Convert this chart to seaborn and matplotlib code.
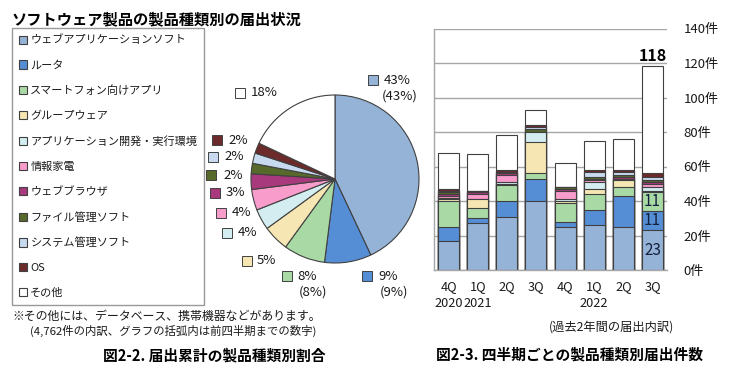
import matplotlib
matplotlib.use("Agg")
import matplotlib.pyplot as plt
from matplotlib.patches import Rectangle
from matplotlib.offsetbox import DrawingArea, AnnotationBbox
import seaborn as sns
import numpy as np

sns.set_theme(style="white")
plt.rcParams["font.family"] = ["Noto Sans CJK JP", "DejaVu Sans"]

# product types (legend order = stacking order)
categories = ["ウェブアプリケーションソフト", "ルータ", "スマートフォン向けアプリ", "グループウェア",
              "アプリケーション開発・実行環境", "情報家電", "ウェブブラウザ", "ファイル管理ソフト",
              "システム管理ソフト", "OS", "その他"]
colors = ["#95B3D7", "#558ED5", "#A9DAA6", "#F5E6B4", "#D4EDF0", "#F89CCB", "#A8397C",
          "#576A2C", "#C8DAF0", "#6C2A2A", "#FFFFFF"]

# cumulative share (%) and previous-quarter share
pie_share = [43, 9, 8, 5, 4, 4, 3, 2, 2, 2, 18]
prev_share = [43, 9, 8]

# quarterly counts
quarter_keys = ["2020Q4", "2021Q1", "2021Q2", "2021Q3", "2021Q4", "2022Q1", "2022Q2", "2022Q3"]
quarter_labels = ["4Q\n2020", "1Q\n2021", "2Q", "3Q", "4Q", "1Q\n2022", "2Q", "3Q"]
web_app = [17, 27, 31, 40, 25, 26, 25, 23]
router = [8, 3, 9, 13, 3, 9, 18, 11]
smartphone = [15, 6, 9, 3, 11, 9, 5, 11]
groupware = [1, 5, 1, 18, 1, 3, 4, 1]
app_dev = [1, 0, 1, 6, 1, 4, 1, 2]
appliance = [1, 3, 4, 0, 5, 1, 0, 2]
browser = [1, 1, 1, 0, 1, 1, 1, 1]
file_mgmt = [1, 1, 1, 2, 1, 1, 1, 1]
sys_mgmt = [1, 0, 0, 1, 0, 3, 2, 2]
os_sw = [1, 0, 1, 1, 0, 1, 1, 2]
other = [21, 21, 20, 9, 14, 17, 18, 62]
series = [web_app, router, smartphone, groupware, app_dev, appliance,
          browser, file_mgmt, sys_mgmt, os_sw, other]

W, H = 737, 370
TXT = "#1a1a1a"
EDGE = "#404040"


def fx(x):
    return x / W


def fy(y):
    return 1 - y / H


fig = plt.figure(figsize=(W / 100, H / 100), dpi=100)

# ---------------- pie ----------------
R = 84
ax_pie = fig.add_axes([fx(205), fy(303), 260 / W, 248 / H])
wedges, _ = ax_pie.pie(pie_share, colors=colors, startangle=90, counterclock=False,
                       wedgeprops=dict(edgecolor=EDGE, linewidth=0.8))
ax_pie.set_xlim(-130 / R, 130 / R)
ax_pie.set_ylim(-124 / R, 124 / R)
ax_pie.axis("off")

# pie labels: (key x, key y, text x) in pixels
label_pos = [(373, 80, 384), (367, 276, 378), (287, 276, 297), (247, 261, 257),
             (227, 233, 238), (221, 213, 232), (215, 193, 226), (211, 175, 223),
             (213, 157, 224), (217, 140, 228), (240, 93, 251)]
for i, (kx, ky, tx) in enumerate(label_pos):
    da = DrawingArea(7, 7, 0, 0)
    da.add_artist(Rectangle((0, 0), 7, 7, facecolor=colors[i], edgecolor=EDGE, linewidth=0.7))
    ab = AnnotationBbox(da, (fx(kx), fy(ky)), xycoords="figure fraction",
                        frameon=False, box_alignment=(0.5, 0.5), pad=0)
    fig.add_artist(ab)
    fig.text(fx(tx), fy(ky), f"{pie_share[i]}%", fontsize=9.5, color=TXT,
             ha="left", va="center")
    if i < len(prev_share):
        fig.text(fx(tx + 16), fy(ky + 16), f"({prev_share[i]}%)", fontsize=9.5,
                 color=TXT, ha="center", va="center")

leg = fig.legend(wedges, categories, loc="upper left", bbox_to_anchor=(fx(12), fy(28)),
                 frameon=True, fancybox=False, edgecolor="#808080", fontsize=8.0,
                 handlelength=0.75, handleheight=0.75, handletextpad=0.3,
                 labelspacing=1.34, borderpad=0.6, borderaxespad=0)
leg.get_frame().set_linewidth(1.0)
for t in leg.get_texts():
    t.set_color(TXT)

fig.text(fx(12), fy(19), "ソフトウェア製品の製品種類別の届出状況", fontsize=11,
         fontweight="bold", color="black", ha="left", va="center")
fig.text(fx(12), fy(316), "※その他には、データベース、携帯機器などがあります。",
         fontsize=8.6, color=TXT, ha="left", va="center")
fig.text(fx(30), fy(331), "(4,762件の内訳、グラフの括弧内は前四半期までの数字)",
         fontsize=8.2, color=TXT, ha="left", va="center")
fig.text(fx(214), fy(355), "図2-2. 届出累計の製品種類別割合", fontsize=10.6,
         fontweight="bold", color="black", ha="center", va="center")

# ---------------- stacked bars ----------------
ax = fig.add_axes([fx(434), fy(270), 233 / W, 241.5 / H])
cum = np.cumsum(np.array(series), axis=0)
for i in range(len(series) - 1, -1, -1):
    sns.barplot(x=quarter_keys, y=cum[i], order=quarter_keys, color=colors[i],
                saturation=1, width=0.72, edgecolor=EDGE, linewidth=0.8,
                errorbar=None, ax=ax)

ax.set_xlim(-0.5, 7.5)
ax.set_ylim(0, 140)
ax.set_xlabel("")
ax.set_ylabel("")
ax.set_yticks(range(0, 141, 20))
ax.set_yticklabels([f"{v}件" for v in range(0, 141, 20)])
ax.yaxis.tick_right()
ax.tick_params(axis="y", length=0, pad=12, labelsize=9.5, colors=TXT)
ax.set_xticks(range(len(quarter_keys)))
ax.set_xticklabels(quarter_labels, fontsize=9.2, color=TXT, linespacing=1.45)
ax.set_xticks(np.arange(-0.5, 8, 1), minor=True)
ax.tick_params(axis="x", which="major", length=0, pad=7)
ax.tick_params(axis="x", which="minor", length=4, width=1, color="#a6a6a6", direction="out")
ax.grid(axis="y", color="#a6a6a6", linewidth=1)
ax.set_axisbelow(True)
for s in ["top", "right"]:
    ax.spines[s].set_visible(False)
for s in ["left", "bottom"]:
    ax.spines[s].set_color("#a6a6a6")
    ax.spines[s].set_linewidth(1)

# labels on the latest quarter
last = len(quarter_keys) - 1
base = 0
for i in range(3):
    v = series[i][last]
    ax.text(last, base + v / 2, str(v), ha="center", va="center", fontsize=11, color="#14213d")
    base += v
ax.annotate(str(cum[-1][last]), (last, cum[-1][last]), xytext=(0, 2),
            textcoords="offset points", ha="center", va="bottom",
            fontsize=11.5, fontweight="bold", color="black")

fig.text(fx(611), fy(327), "(過去2年間の届出内訳)", fontsize=8.8, color=TXT,
         ha="center", va="center")
fig.text(fx(569), fy(354), "図2-3. 四半期ごとの製品種類別届出件数", fontsize=10.6,
         fontweight="bold", color="black", ha="center", va="center")

fig.savefig("out.png", dpi=100, facecolor="white")
